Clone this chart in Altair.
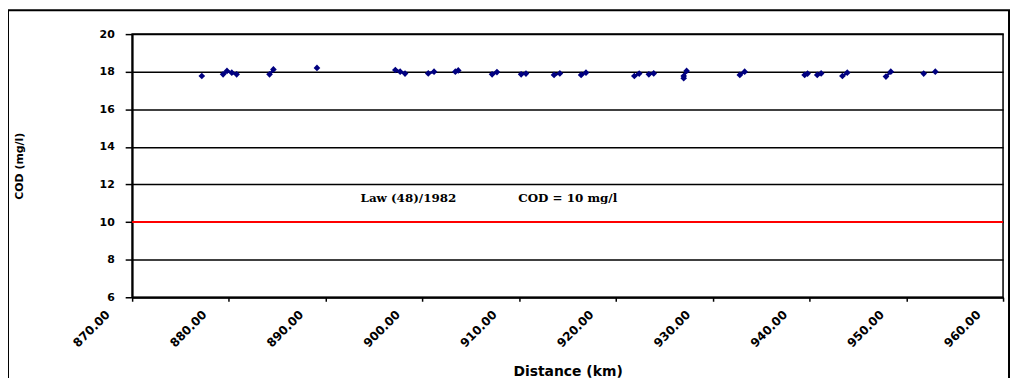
import altair as alt
import pandas as pd

# Data
distance = [877.2, 879.4, 879.8, 880.3, 880.8, 884.2, 884.6, 889.1, 897.2, 897.7,
            898.2, 900.6, 901.2, 903.4, 903.7, 907.2, 907.7, 910.2, 910.7, 913.6,
            914.2, 916.4, 916.9, 921.9, 922.4, 923.4, 923.9, 927.0, 927.0, 927.3,
            932.8, 933.3, 939.5, 939.8, 940.8, 941.2, 943.4, 943.9, 947.9, 948.4,
            951.8, 953.0]
cod = [17.77, 17.86, 18.04, 17.95, 17.86, 17.86, 18.12, 18.20, 18.09, 18.00,
       17.90, 17.91, 18.00, 18.00, 18.07, 17.86, 17.98, 17.86, 17.90, 17.83,
       17.91, 17.83, 17.95, 17.77, 17.90, 17.86, 17.91, 17.65, 17.77, 18.04,
       17.83, 18.00, 17.83, 17.90, 17.83, 17.91, 17.77, 17.95, 17.74, 18.00,
       17.90, 18.00]
group = [1, 2, 2, 2, 2, 3, 3, 4, 5, 5,
         5, 6, 6, 7, 7, 8, 8, 9, 9, 10,
         10, 11, 11, 12, 12, 13, 13, 14, 14, 14,
         15, 15, 16, 16, 17, 17, 18, 18, 19, 19,
         20, 21]

x_ticks = [870, 880, 890, 900, 910, 920, 930, 940, 950, 960]
y_ticks = [6, 8, 10, 12, 14, 16, 18, 20]
limit_value = [10]
ann_text = ["Law (48)/1982", "COD = 10 mg/l"]
ann_x = [893.6, 909.9]
ann_y = [11.3, 11.3]

df = pd.DataFrame({"distance": distance, "cod": cod, "group": group,
                   "order": list(range(len(distance)))})
df_limit = pd.DataFrame({"cod": limit_value})
df_ann = pd.DataFrame({"distance": ann_x, "cod": ann_y, "label": ann_text})

xscale = alt.Scale(domain=[870, 960], nice=False, zero=False)
yscale = alt.Scale(domain=[6, 20], nice=False, zero=False)

x_axis = alt.Axis(
    values=x_ticks, format=".2f", labelAngle=-45, labelAlign="right",
    labelBaseline="middle", labelPadding=11, labelOffset=-25, labelFlush=False,
    labelOverlap=False, labelBound=False,
    tickSize=4, tickColor="black", tickWidth=1.5,
    domainColor="black", domainWidth=2, grid=False,
    labelFont="DejaVu Sans", labelFontWeight="bold", labelFontSize=12,
    labelColor="black",
    title="Distance (km)", titleFont="DejaVu Sans", titleFontSize=14,
    titleFontWeight="bold", titleColor="black", titleY=75,
    titleBaseline="middle",
)
y_axis = alt.Axis(
    values=y_ticks, format="d", tickSize=7, tickColor="black", tickWidth=1.5,
    labelPadding=11, labelFont="DejaVu Sans", labelFontWeight="bold",
    labelFontSize=11, labelColor="black", labelFlush=False, labelOverlap=False,
    grid=True, gridColor="black", gridWidth=1.5, gridOpacity=1,
    domainColor="black", domainWidth=2,
    title="COD (mg/l)", titleFont="DejaVu Sans", titleFontSize=11,
    titleFontWeight="bold", titleColor="black", titleX=-113, titleY=132.5,
    titleAngle=-90, titleAlign="center", titleBaseline="middle",
)

X = alt.X("distance:Q", scale=xscale, axis=x_axis)
Y = alt.Y("cod:Q", scale=yscale, axis=y_axis)

frame = alt.Chart(pd.DataFrame({"a": [0]})).mark_rect(
    fill="transparent", stroke="black", strokeWidth=2
).encode(x=alt.value(-125), x2=alt.value(883), y=alt.value(-24), y2=alt.value(420))

limit = alt.Chart(df_limit).mark_rule(color="#ff0000", strokeWidth=2).encode(y=Y)

lines = alt.Chart(df).mark_line(color="#000080", strokeWidth=2.5).encode(
    x=X, y=Y, detail="group:N", order="order:Q")

points = alt.Chart(df).mark_point(
    shape="diamond", filled=True, size=45, color="#000080", opacity=1
).encode(x=X, y=Y)

ann = alt.Chart(df_ann).mark_text(
    font="DejaVu Serif", fontSize=12, fontWeight="bold", align="left",
    baseline="middle", color="black"
).encode(x=X, y=Y, text="label:N")

chart = alt.layer(limit, lines, points, ann, frame).properties(
    width=877, height=265,
    autosize=alt.AutoSizeParams(type="none"),
    padding={"left": 125, "top": 25, "right": 7, "bottom": 80},
    background="white",
).configure_view(stroke="black", strokeWidth=1.5)

chart.save("out.html", embed_options={"renderer": "svg", "actions": False})
